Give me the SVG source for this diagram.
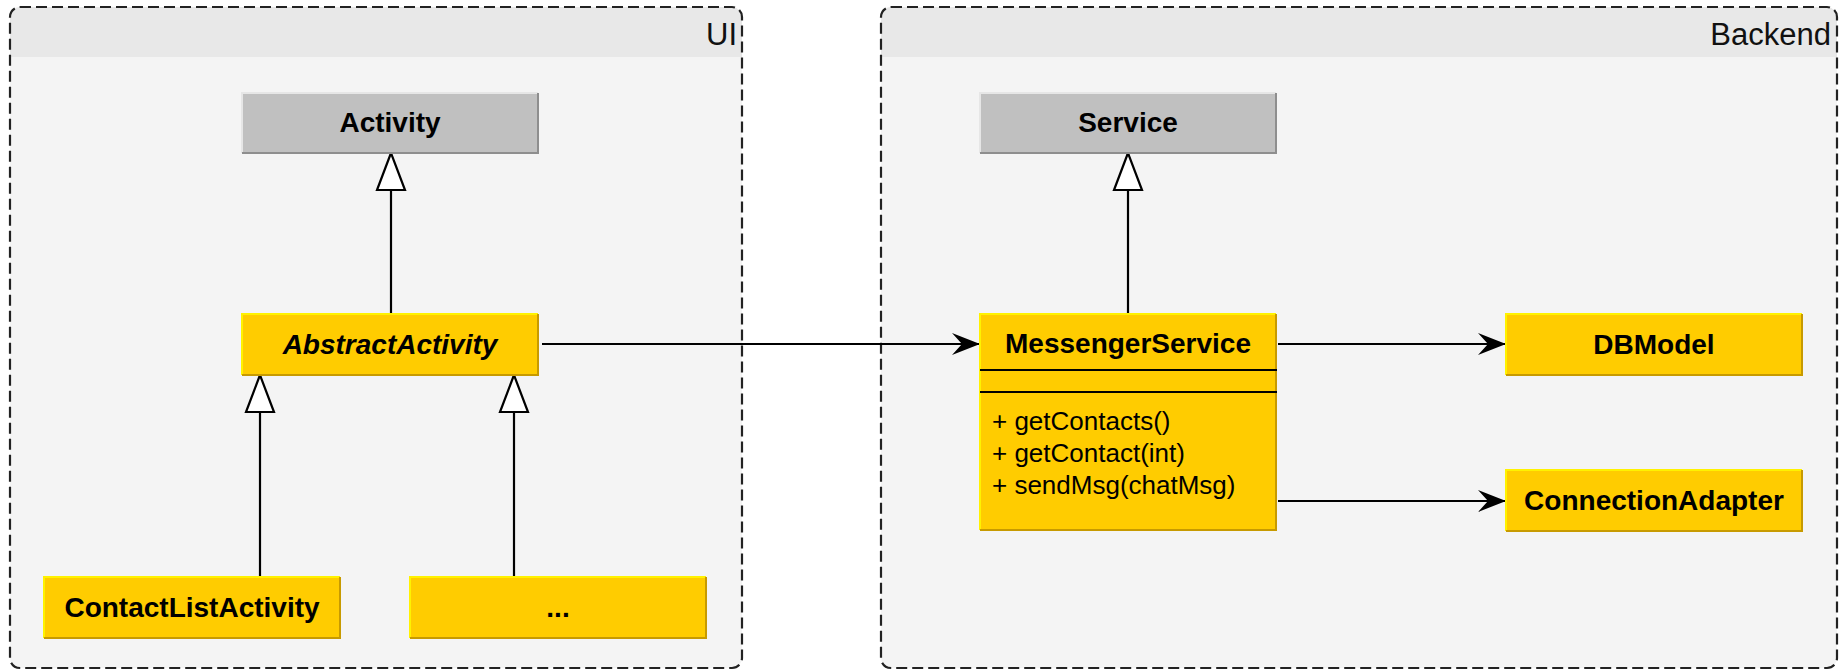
<svg xmlns="http://www.w3.org/2000/svg" width="1843" height="670" viewBox="0 0 1843 670">
  <style>
    .frame { fill: none; stroke: #222; stroke-width: 2.2; stroke-dasharray: 11 5; }
    .body { fill: #f4f4f4; }
    .head { fill: #e8e8e8; }
    .ctitle { font-family: "Liberation Sans", Arial, sans-serif; font-size: 31px; fill: #111; text-anchor: end; }
    .gray { fill: #c0c0c0; }
    .yellow { fill: #ffcc00; }
    .hi-g { stroke: #e6e6e6; stroke-width: 2; fill: none; }
    .lo-g { stroke: #8e8e8e; stroke-width: 2; fill: none; }
    .hi-y { stroke: #fff200; stroke-width: 2; fill: none; }
    .lo-y { stroke: #c79a00; stroke-width: 2; fill: none; }
    .name { font-family: "Liberation Sans", Arial, sans-serif; font-size: 28px; font-weight: bold; fill: #000; text-anchor: middle; }
    .abstract { font-style: italic; }
    .member { font-family: "Liberation Sans", Arial, sans-serif; font-size: 26px; fill: #000; }
    .sep { stroke: #000; stroke-width: 2.2; }
    .edge { stroke: #000; stroke-width: 2.2; fill: none; }
    .gen { marker-end: url(#tri); }
    .assoc { marker-end: url(#arrow); }
  </style>
  <defs>
    <marker id="tri" markerUnits="userSpaceOnUse" markerWidth="42" markerHeight="36" viewBox="-39 -18 42 36" refX="0" refY="0" orient="auto" overflow="visible">
      <path d="M0,0 L-37,-14 L-37,14 Z" fill="#fff" stroke="#000" stroke-width="2.2" stroke-linejoin="miter"/>
    </marker>
    <marker id="arrow" markerUnits="userSpaceOnUse" markerWidth="32" markerHeight="26" viewBox="-29 -13 32 26" refX="0" refY="0" orient="auto" overflow="visible">
      <path d="M0,0 L-28,-11 L-18,0 L-28,11 Z" fill="#000"/>
    </marker>
  </defs>

  <g id="container-ui">
    <rect class="body" x="10" y="7" width="732" height="661" rx="10"/>
    <path class="head" d="M10,57 L10,17 A10,10 0 0 1 20,7 L732,7 A10,10 0 0 1 742,17 L742,57 Z"/>
    <rect class="frame" x="10" y="7" width="732" height="661" rx="10"/>
    <text class="ctitle" x="737" y="45">UI</text>
  </g>

  <g id="container-backend">
    <rect class="body" x="881" y="7" width="956" height="661" rx="10"/>
    <path class="head" d="M881,57 L881,17 A10,10 0 0 1 891,7 L1827,7 A10,10 0 0 1 1837,17 L1837,57 Z"/>
    <rect class="frame" x="881" y="7" width="956" height="661" rx="10"/>
    <text class="ctitle" x="1831" y="45">Backend</text>
  </g>

  <g id="connectors">
    <line class="edge gen" x1="391" y1="314" x2="391" y2="153"/>
    <line class="edge gen" x1="260" y1="577" x2="260" y2="375"/>
    <line class="edge gen" x1="514" y1="577" x2="514" y2="375"/>
    <line class="edge gen" x1="1128" y1="314" x2="1128" y2="153"/>
    <line class="edge assoc" x1="542" y1="344" x2="980" y2="344"/>
    <line class="edge assoc" x1="1278" y1="344" x2="1506" y2="344"/>
    <line class="edge assoc" x1="1278" y1="501" x2="1506" y2="501"/>
  </g>

  <g id="node-activity">
    <rect class="gray" x="242" y="93" width="296" height="60"/>
    <path class="hi-g" d="M242,153 L242,93 L538,93"/>
    <path class="lo-g" d="M538,93 L538,153 L242,153"/>
    <text class="name" x="390" y="132">Activity</text>
  </g>

  <g id="node-abstractactivity">
    <rect class="yellow" x="242" y="314" width="296" height="61"/>
    <path class="hi-y" d="M242,375 L242,314 L538,314"/>
    <path class="lo-y" d="M538,314 L538,375 L242,375"/>
    <text class="name abstract" x="390" y="354">AbstractActivity</text>
  </g>

  <g id="node-contactlistactivity">
    <rect class="yellow" x="44" y="577" width="296" height="61"/>
    <path class="hi-y" d="M44,638 L44,577 L340,577"/>
    <path class="lo-y" d="M340,577 L340,638 L44,638"/>
    <text class="name" x="192" y="617">ContactListActivity</text>
  </g>

  <g id="node-other">
    <rect class="yellow" x="410" y="577" width="296" height="61"/>
    <path class="hi-y" d="M410,638 L410,577 L706,577"/>
    <path class="lo-y" d="M706,577 L706,638 L410,638"/>
    <text class="name" x="558" y="617">...</text>
  </g>

  <g id="node-service">
    <rect class="gray" x="980" y="93" width="296" height="60"/>
    <path class="hi-g" d="M980,153 L980,93 L1276,93"/>
    <path class="lo-g" d="M1276,93 L1276,153 L980,153"/>
    <text class="name" x="1128" y="132">Service</text>
  </g>

  <g id="node-messengerservice">
    <rect class="yellow" x="980" y="314" width="296" height="216"/>
    <path class="hi-y" d="M980,530 L980,314 L1276,314"/>
    <path class="lo-y" d="M1276,314 L1276,530 L980,530"/>
    <text class="name" x="1128" y="353">MessengerService</text>
    <line class="sep" x1="980" y1="370" x2="1277" y2="370"/>
    <line class="sep" x1="980" y1="392" x2="1277" y2="392"/>
    <text class="member" x="992" y="430">+ getContacts()</text>
    <text class="member" x="992" y="462">+ getContact(int)</text>
    <text class="member" x="992" y="494">+ sendMsg(chatMsg)</text>
  </g>

  <g id="node-dbmodel">
    <rect class="yellow" x="1506" y="314" width="296" height="61"/>
    <path class="hi-y" d="M1506,375 L1506,314 L1802,314"/>
    <path class="lo-y" d="M1802,314 L1802,375 L1506,375"/>
    <text class="name" x="1654" y="354">DBModel</text>
  </g>

  <g id="node-connectionadapter">
    <rect class="yellow" x="1506" y="470" width="296" height="61"/>
    <path class="hi-y" d="M1506,531 L1506,470 L1802,470"/>
    <path class="lo-y" d="M1802,470 L1802,531 L1506,531"/>
    <text class="name" x="1654" y="510">ConnectionAdapter</text>
  </g>
</svg>
